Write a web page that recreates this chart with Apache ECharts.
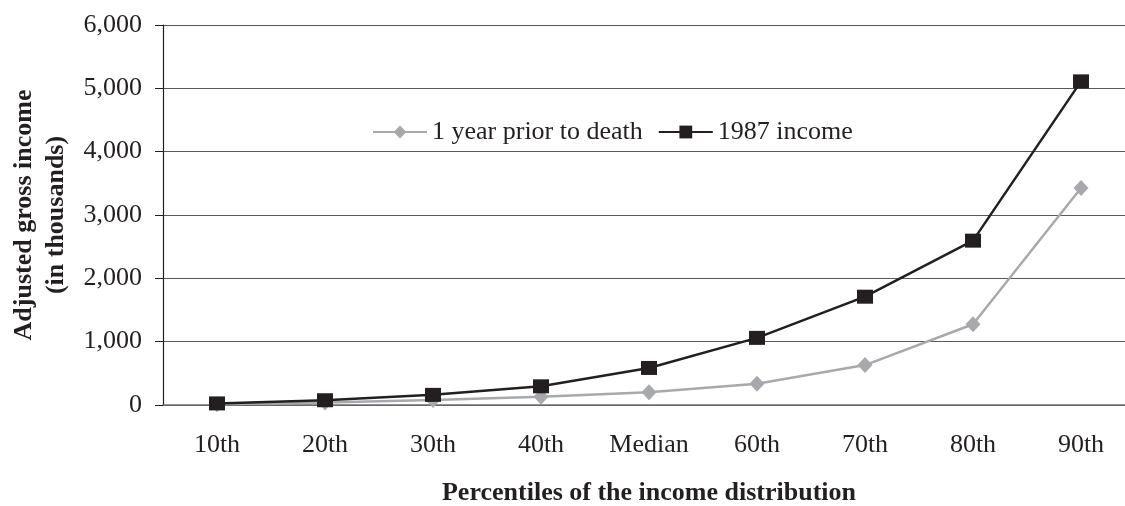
<!DOCTYPE html>
<html><head><meta charset="utf-8">
<script src="https://cdn.jsdelivr.net/npm/echarts@6/dist/echarts.min.js"></script>
<style>html,body{margin:0;padding:0;background:#fff}#c{width:1125px;height:506px}</style>
</head><body><div id="c"></div>
<script>
const categories = ['10th','20th','30th','40th','Median','60th','70th','80th','90th'];
const priorToDeath = [10, 40, 80, 130, 200, 335, 630, 1275, 3425];
const income1987 = [25, 75, 160, 295, 585, 1060, 1710, 2595, 5110];
const yTicks = [0, 1000, 2000, 3000, 4000, 5000, 6000];

const font = 'Liberation Serif';
const chart = echarts.init(document.getElementById('c'));
chart.setOption({
  animation: false,
  backgroundColor: '#fff',
  textStyle: {fontFamily: font},
  grid: {left: 163, top: 25, width: 972, height: 380, outerBoundsMode: 'none', containLabel: false},
  legend: {
    left: 367, top: 114,
    itemWidth: 54, itemHeight: 16, itemGap: 15,
    textStyle: {fontFamily: font, fontSize: 26, color: '#231f20'},
    data: ['1 year prior to death', '1987 income']
  },
  xAxis: {
    type: 'category', data: categories, boundaryGap: true,
    axisLine: {lineStyle: {color: '#6d6e71', width: 1.5}},
    axisTick: {show: false},
    axisLabel: {fontFamily: font, fontSize: 26, color: '#231f20', margin: 27},
    name: 'Percentiles of the income distribution',
    nameLocation: 'middle', nameGap: 75,
    nameTextStyle: {fontFamily: font, fontSize: 26, fontWeight: 'bold', color: '#231f20'}
  },
  yAxis: {
    type: 'value', min: yTicks[0], max: yTicks[yTicks.length-1], interval: 1000,
    axisLine: {show: true, lineStyle: {color: '#231f20', width: 1.2}},
    axisTick: {show: true, length: 8, lineStyle: {color: '#231f20'}},
    axisLabel: {fontFamily: font, fontSize: 26, color: '#231f20', margin: 21,
      formatter: v => v.toLocaleString('en-US')},
    splitLine: {lineStyle: {color: '#58595b', width: 1.2}},
    name: 'Adjusted gross income\n(in thousands)',
    nameLocation: 'middle', nameGap: 90,
    nameTextStyle: {fontFamily: font, fontSize: 26, fontWeight: 'bold', color: '#231f20', lineHeight: 32}
  },
  series: [
    {
      name: '1 year prior to death', type: 'line', data: priorToDeath,
      symbol: 'diamond', symbolSize: [15, 16],
      lineStyle: {color: '#a7a9ac', width: 2.5},
      itemStyle: {color: '#a7a9ac'}
    },
    {
      name: '1987 income', type: 'line', data: income1987,
      symbol: 'rect', symbolSize: [16, 14],
      lineStyle: {color: '#231f20', width: 2.5},
      itemStyle: {color: '#231f20'}
    }
  ]
});
</script></body></html>
